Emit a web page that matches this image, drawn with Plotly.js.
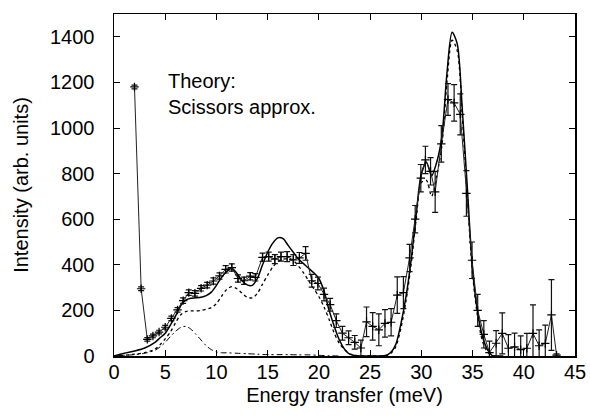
<!DOCTYPE html>
<html>
<head>
<meta charset="utf-8">
<script src="https://cdn.plot.ly/plotly-3.0.1.min.js"></script>
<style>html,body{margin:0;padding:0;background:#fff;}#chart{width:590px;height:418px;}</style>
</head>
<body>
<div id="chart"></div>
<script>
// Experimental data (energy transfer in meV, intensity, error)
const dataE = [2.0,2.65,3.25,3.8,4.4,5.0,5.6,6.2,6.75,7.3,7.9,8.5,9.1,9.7,10.3,10.9,11.5,12.1,12.7,13.3,13.8,14.5,15.1,15.7,16.3,16.9,17.5,18.1,18.7,19.3,19.9,20.5,21.1,21.7,22.3,22.9,23.5,24.1,24.65,25.25,25.85,26.45,27.05,27.65,28.25,28.85,29.4,29.95,30.4,30.9,31.35,31.95,32.6,33.2,33.8,34.4,34.95,35.5,36.1,36.65,37.3,37.9,38.5,39.1,39.7,40.3,40.9,41.5,42.1,42.7,43.2];
const dataI = [1180,295,73,88,105,126,165,202,243,278,275,297,311,329,351,380,388,340,330,350,345,433,436,425,436,436,421,430,450,330,318,270,225,155,100,80,60,35,150,130,115,143,148,267,278,430,600,780,860,810,720,930,1125,1110,1060,713,420,200,95,15,56,99,34,40,28,34,99,45,55,180,4];
const dataErr = [8,8,8,8,8,8,10,10,12,12,12,12,12,14,14,16,16,16,16,16,16,18,20,20,20,22,24,24,30,28,28,28,28,30,30,30,30,35,65,60,70,60,60,80,70,60,60,60,60,60,90,80,70,80,90,100,80,70,60,50,55,90,60,60,60,65,125,70,80,155,5];

// Theory curves
const thE = [0,1,2,3,4,4.5,5,5.5,6,6.5,7,7.5,8,8.5,9,9.5,10,10.5,11,11.5,12,12.5,13,13.5,14,14.5,15,15.5,16,16.5,17,17.5,18,18.5,19,19.5,20,20.5,21,21.5,22,22.5,23,23.5,24,25,26,26.5,27,27.5,28,28.5,29,29.5,30,30.5,31,31.5,32,32.5,33,33.5,34,34.5,35,35.5,36,36.5,37,38];
const thTotal = [0,12,22,35,60,80,100,135,175,220,245,253,255,258,265,280,310,345,370,385,362,330,312,310,340,400,455,495,518,515,485,455,425,405,385,365,340,285,200,130,70,30,8,2,0,0,0,2,15,50,140,260,420,620,800,850,790,850,960,1240,1420,1370,1080,730,380,190,80,25,0,0];
const thPart = [0,3,8,15,30,50,75,105,145,180,195,198,198,200,205,212,230,262,292,304,295,275,258,255,275,315,355,390,415,425,425,418,395,365,330,295,260,215,160,100,55,28,10,3,0,0,0,1,10,40,120,240,400,600,760,770,700,790,920,1200,1385,1340,1050,690,360,170,60,15,0,0];
const lowE = [0,1,2,3,4,4.5,5,5.5,6,6.5,7,7.5,8,8.5,9,9.5,10,10.5,11,12,13,14,15,16,17,18,19,20,21,22];
const lowI = [0,3,6,12,25,40,60,85,108,125,130,118,95,70,45,28,18,14,14,12,10,8,6,6,6,5,5,3,1,0];

const traces = [
  {x: thE, y: thPart, mode:'lines', line:{color:'#000', width:1.3, dash:'3px,3px', shape:'spline', smoothing:0.8}, hoverinfo:'skip'},
  {x: lowE, y: lowI, mode:'lines', line:{color:'#000', width:1, dash:'6px,3px,2px,3px', shape:'spline', smoothing:0.8}, hoverinfo:'skip'},
  {x: thE, y: thTotal, mode:'lines', line:{color:'#000', width:1.5, shape:'spline', smoothing:0.8}, hoverinfo:'skip'},
  {x: dataE, y: dataI, mode:'lines+markers', line:{color:'#222', width:1},
   marker:{symbol:'cross-thin', size:6, line:{color:'#000', width:1.2}},
   error_y:{type:'data', array: dataErr, visible:true, color:'#111', thickness:1.2, width:3}}
];

const fontFam = '"Liberation Sans", Arial, Helvetica, sans-serif';
const layout = {
  width:590, height:418,
  margin:{l:114, r:15, t:14, b:62},
  paper_bgcolor:'#fff', plot_bgcolor:'#fff',
  showlegend:false,
  font:{family:fontFam, size:20, color:'#000'},
  xaxis:{range:[0,45], tick0:0, dtick:5, ticks:'inside', ticklen:6, tickwidth:1, tickcolor:'#000',
         showline:true, linecolor:'#000', linewidth:1.5, mirror:'ticks', showgrid:false, zeroline:false,
         ticklabelstandoff:-3,
         title:{text:'Energy transfer (meV)', standoff:6, font:{size:20}}, tickfont:{size:20}},
  yaxis:{range:[0,1500], tick0:0, dtick:200, ticks:'inside', ticklen:6, tickwidth:1, tickcolor:'#000',
         showline:true, linecolor:'#000', linewidth:1.5, mirror:'ticks', showgrid:false, zeroline:false,
         ticklabelstandoff:14,
         title:{text:'Intensity (arb. units)', standoff:16, font:{size:20}}, tickfont:{size:20}},
  annotations:[{xref:'x', yref:'y', x:5.1, y:1265, xanchor:'left', yanchor:'top', align:'left', showarrow:false,
    text:'Theory:<br>Scissors approx.', font:{size:20, family:fontFam}}]
};
Plotly.newPlot('chart', traces, layout, {displayModeBar:false, staticPlot:true});
</script>
</body>
</html>
